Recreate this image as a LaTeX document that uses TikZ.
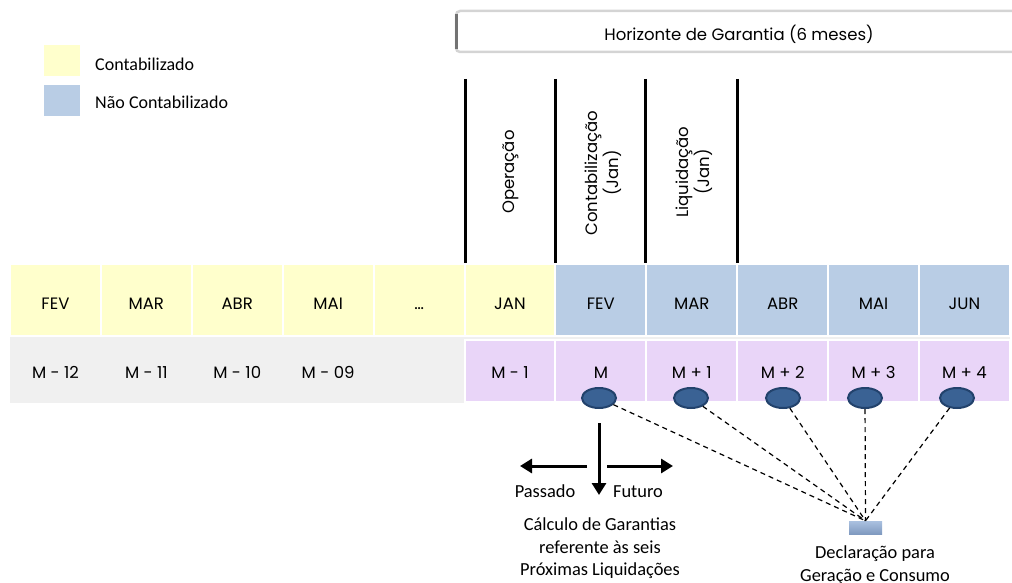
\documentclass[tikz,border=0pt]{standalone}
\usepackage{fontspec}
\setmainfont{Carlito}
\newfontfamily\comicfont{Poppins}
\usetikzlibrary{shapes.geometric,arrows.meta}

\definecolor{accyellow}{RGB}{255,255,204}
\definecolor{openblue}{RGB}{185,205,229}
\definecolor{lavender}{RGB}{233,213,248}
\definecolor{rowgray}{RGB}{240,240,240}
\definecolor{dotfill}{RGB}{58,98,148}
\definecolor{dotedge}{RGB}{34,66,108}
\definecolor{declTop}{RGB}{170,193,224}
\definecolor{declBot}{RGB}{128,154,192}

\tikzset{
  comictext/.style={font=\comicfont\fontsize{16.5}{21}\selectfont},
  bodytext/.style={font=\fontsize{18.4}{22.5}\selectfont, inner sep=0pt},
  monthcell/.style={comictext, draw=white, line width=2pt, minimum width=90.9pt,
    minimum height=72pt, inner sep=0pt, text height=19pt, text depth=0pt},
  pastcell/.style={comictext, minimum width=90.9pt, minimum height=62pt,
    inner sep=0pt, text height=14pt, text depth=0pt},
  nextcell/.style={pastcell, fill=lavender, draw=white, line width=2pt},
  divider/.style={line width=3pt, black},
  steplabel/.style={comictext, rotate=90, align=center, inner sep=0pt},
  dot/.style={ellipse, fill=dotfill, draw=dotedge, line width=2pt,
    minimum width=34pt, minimum height=20pt, inner sep=0pt},
  dashlink/.style={dashed, dash pattern=on 5pt off 4pt, line width=1.2pt},
  bigarrow/.style={line width=3pt, -{Triangle[length=12pt,width=14pt]}},
  legendbox/.style={minimum width=36pt, minimum height=31pt, inner sep=0pt}
}

\begin{document}
\begin{tikzpicture}[x=1pt,y=-1pt]
\useasboundingbox (0,0) rectangle (1012,583);

% guarantee horizon banner
\draw[rounded corners=4pt, line width=2.5pt, color=black!17]
  (1030,11) -- (456,11) -- (456,52) -- (1030,52);
\draw[line width=3pt, color=black!55] (456,14) -- (456,49);
\node[comictext, anchor=base] (hdr) at (739,41) {Horizonte de Garantia (6 meses)};

% legend
\node[legendbox, fill=accyellow] (legA) at (62,60.5) {};
\node[legendbox, fill=openblue]  (legB) at (62,100.5) {};
\node[bodytext, font=\fontsize{18}{20}\selectfont, anchor=base west] (legAt) at (95,71) {Contabilizado};
\node[bodytext, font=\fontsize{18}{20}\selectfont, anchor=base west] (legBt) at (95,109) {Não Contabilizado};

% timeline band
\fill[rowgray] (10,263) rectangle (1010,403);
\foreach \lab/\col [count=\i from 0] in
  {FEV/accyellow, MAR/accyellow, ABR/accyellow, MAI/accyellow, {\ldots}/accyellow,
   JAN/accyellow, FEV/openblue, MAR/openblue, ABR/openblue, MAI/openblue, JUN/openblue}
  \node[monthcell, fill=\col] (m\i) at ({55.45+90.9*\i},300) {\lab};
\foreach \lab/\sty [count=\i from 0] in
  {M - 12/pastcell, M - 11/pastcell, M - 10/pastcell, M - 09/pastcell, /pastcell,
   M - 1/nextcell, M/nextcell, M + 1/nextcell, M + 2/nextcell, M + 3/nextcell, M + 4/nextcell}
  \node[\sty] (r\i) at ({55.45+90.9*\i},371) {\lab};

% phase dividers and labels
\foreach \x in {465,555,645,737}
  \draw[divider] (\x,79) -- (\x,263);
\node[steplabel] (op)  at (511,172) {Operação};
\node[steplabel] (cnt) at (603,173) {Contabilização\\(Jan)};
\node[steplabel] (liq) at (694,172) {Liquidação\\(Jan)};

% declaration markers
\node[dot] (e1) at (599,398) {};
\node[dot] (e2) at (691,398) {};
\node[dot] (e3) at (783,398) {};
\node[dot] (e4) at (865,398) {};
\node[dot] (e5) at (957,398) {};
\node[minimum width=33pt, minimum height=13pt, inner sep=0pt,
      top color=declTop, bottom color=declBot] (decl) at (865.5,527.5) {};
\foreach \e in {e1,e2,e3,e4,e5}
  \draw[dashlink] (\e) -- (decl.north);
\node[bodytext, align=center] (declt) at (875,565) {Declaração para\\Geração e Consumo};

% past / future arrows
\coordinate (dTop) at (599,423);
\coordinate (dEnd) at (599,495);
\coordinate (lStart) at (587,466);
\coordinate (lEnd) at (520,466);
\coordinate (rStart) at (607,466);
\coordinate (rEnd) at (673,466);
\draw[bigarrow] (dTop) -- (dEnd);
\draw[bigarrow] (lStart) -- (lEnd);
\draw[bigarrow] (rStart) -- (rEnd);
\node[bodytext, anchor=base] (past) at (545,497) {Passado};
\node[bodytext, anchor=base] (fut)  at (638,497) {Futuro};
\node[bodytext, align=center] (calc) at (600,548.5)
  {Cálculo de Garantias\\referente às seis\\Próximas Liquidações};
\end{tikzpicture}
\end{document}
